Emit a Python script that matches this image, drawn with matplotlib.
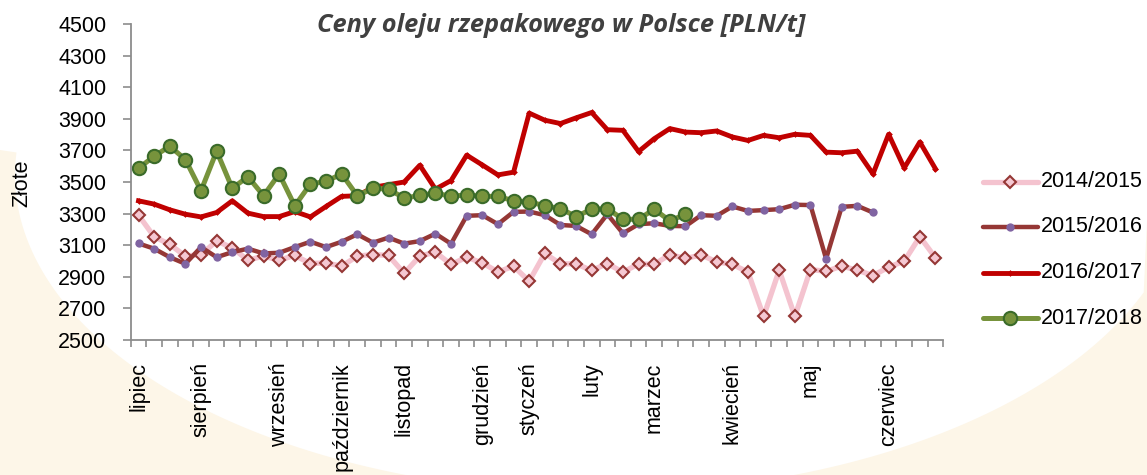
import numpy as np
import matplotlib
matplotlib.use("Agg")
import matplotlib.pyplot as plt
from matplotlib.lines import Line2D
from matplotlib.patches import Polygon

# ---- data ----
months = ["lipiec", "sierpień", "wrzesień", "październik", "listopad", "grudzień",
          "styczeń", "luty", "marzec", "kwiecień", "maj", "czerwiec"]
month_pos = [0, 4, 9, 13, 17, 22, 25, 29, 33, 38, 43, 48]
n_weeks = 52

s1415 = [3290, 3154, 3105, 3031, 3041, 3126, 3084, 3005, 3031, 3005, 3035, 2984, 2988,
         2967, 3031, 3041, 3035, 2922, 3031, 3056, 2978, 3024, 2988, 2931, 2967, 2872,
         3048, 2982, 2982, 2940, 2984, 2929, 2982, 2978, 3041, 3016, 3038, 2995, 2978,
         2931, 2649, 2942, 2649, 2946, 2935, 2967, 2942, 2908, 2961, 2999, 3154, 3020]
s1516 = [3111, 3078, 3024, 2982, 3088, 3024, 3056, 3078, 3048, 3052, 3088, 3122, 3088,
         3122, 3169, 3116, 3148, 3110, 3126, 3173, 3109, 3286, 3290, 3233, 3311, 3313,
         3290, 3228, 3222, 3169, 3296, 3175, 3233, 3239, 3222, 3220, 3290, 3286, 3345,
         3317, 3322, 3328, 3356, 3354, 3014, 3343, 3349, 3307]
s1617 = [3381, 3360, 3324, 3296, 3279, 3307, 3381, 3303, 3281, 3281, 3313, 3279, 3345,
         3409, 3413, 3466, 3483, 3500, 3606, 3455, 3509, 3670, 3608, 3545, 3562, 3936,
         3891, 3870, 3906, 3940, 3831, 3827, 3693, 3774, 3838, 3816, 3812, 3823, 3785,
         3763, 3795, 3780, 3802, 3795, 3689, 3685, 3695, 3551, 3802, 3589, 3753, 3583]
s1718 = [3587, 3663, 3727, 3642, 3445, 3695, 3460, 3534, 3413, 3551, 3349, 3487, 3504,
         3551, 3413, 3460, 3455, 3398, 3415, 3430, 3409, 3419, 3409, 3409, 3381, 3375,
         3349, 3332, 3281, 3328, 3332, 3264, 3264, 3328, 3254, 3296]

labels = ["2014/2015", "2015/2016", "2016/2017", "2017/2018"]
yticks = list(range(2500, 4501, 200))

# ---- styles ----
styles = [
    dict(color="#F4C3CF", lw=3.8, marker="D", ms=6.4, mfc="#F5C8D2", mec="#953735", mew=1.5),
    dict(color="#953735", lw=3.2, marker="o", ms=6.0, mfc="#8064A2", mec="#8064A2", mew=0),
    dict(color="#C00000", lw=3.5, marker="D", ms=3.4, mfc="#C00000", mec="#C00000", mew=0),
    dict(color="#77933C", lw=3.6, marker="o", ms=9.6, mfc="#77933C", mec="#3A6B2A", mew=1.5),
]

W, H = 1147, 475
fig = plt.figure(figsize=(W / 100, H / 100), dpi=100)
fig.patch.set_facecolor("white")

# subtle background swooshes: cream outside a large ellipse (image px, y from top)
cx, cy, a, b = 600, 175, 585, 318
t = np.linspace(0, 2 * np.pi, 400)
ex, ey = cx + a * np.cos(t), cy + b * np.sin(t)
mask_bl = (ex < cx) & (ey > 150)
mask_br = (ex > cx) & (ey > 220)
bl = [(0, 475)] + sorted([(x, y) for x, y in zip(ex[mask_bl], ey[mask_bl])], key=lambda p: p[1])
bl = [(0, 475), (0, 150)] + [p for p in sorted(zip(ex[mask_bl], ey[mask_bl]), key=lambda p: p[1]) if p[0] > 0] + [(cx - a * 0.5, 475)]
br = [(1147, 475), (1147, 220)] + [p for p in sorted(zip(ex[mask_br], ey[mask_br]), key=lambda p: p[1]) if p[0] < 1147] + [(cx + a * 0.5, 475)]
for pts in (bl, br):
    fig.add_artist(Polygon([(x / W, 1 - y / H) for x, y in pts], closed=True,
                           transform=fig.transFigure, facecolor="#FDF6E8", edgecolor="none", zorder=0))

ax = fig.add_axes([130.7 / W, 1 - 340 / H, (943.3 - 130.7) / W, (340 - 24) / H])
ax.patch.set_alpha(0)

x_all = np.arange(n_weeks)
series = [s1415, s1516, s1617, s1718]
for s, st, lab in zip(series, styles, labels):
    xs = x_all[:len(s)]
    ax.plot(xs, s, color=st["color"], lw=st["lw"], marker=st["marker"], ms=st["ms"],
            mfc=st["mfc"], mec=st["mec"], mew=st["mew"], label=lab, solid_joinstyle="round")

ax.set_xlim(-0.5, n_weeks - 0.5)
ax.set_ylim(2500, 4500)
for sp in ["top", "right"]:
    ax.spines[sp].set_visible(False)
for sp in ["left", "bottom"]:
    ax.spines[sp].set_color("#8C8C8C")
    ax.spines[sp].set_linewidth(1.3)

FONT = "Liberation Sans"
ax.set_yticks(yticks)
ax.set_yticklabels([str(v) for v in yticks], fontsize=15.5, family=FONT)
ax.tick_params(axis="y", direction="out", length=5.5, width=1.2, color="#8C8C8C", pad=12)

ax.set_xticks(np.arange(-0.5, n_weeks, 1))
ax.set_xticklabels([])
ax.tick_params(axis="x", which="major", direction="out", length=5, width=1.2, color="#8C8C8C")
ax.set_xticks(month_pos, minor=True)
ax.set_xticklabels(months, minor=True, rotation=90, fontsize=15.5, family=FONT, va="top", ha="center")
ax.tick_params(axis="x", which="minor", length=0, pad=16)

fig.text(22 / W, 1 - 183 / H, "Złote", rotation=90, ha="center", va="center",
         fontsize=15.5, family=FONT)
fig.text(561.5 / W, 1 - 32 / H, "Ceny oleju rzepakowego w Polsce [PLN/t]",
         ha="center", va="baseline", fontsize=18.3, family="Open Sans",
         fontweight="bold", style="italic", color="#404040")

# legend drawn manually
rows = [181.7, 226.7, 272.7, 318.3]
x0, x1, xm = 983, 1038, 1010
for st, lab, ry in zip(styles, labels, rows):
    yy = 1 - ry / H
    fig.add_artist(Line2D([x0 / W, xm / W, x1 / W], [yy, yy, yy], transform=fig.transFigure,
                          color=st["color"], lw=st["lw"], marker=st["marker"], ms=st["ms"],
                          mfc=st["mfc"], mec=st["mec"], mew=st["mew"], markevery=[1],
                          solid_capstyle="round"))
    fig.text(1041 / W, yy, lab, ha="left", va="center", fontsize=15.5, family=FONT)

fig.savefig("out.png", dpi=100)
